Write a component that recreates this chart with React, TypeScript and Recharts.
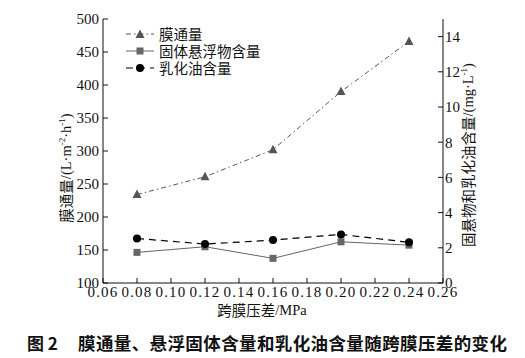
import React from 'react';
import { LineChart, Line, XAxis, YAxis } from 'recharts';

const pressure = [0.08, 0.12, 0.16, 0.2, 0.24];
const flux = [234, 261, 302, 390, 466];
const solids = [1.74, 2.06, 1.4, 2.34, 2.15];
const oil = [2.53, 2.21, 2.44, 2.76, 2.31];

const xTicks = [0.06, 0.08, 0.1, 0.12, 0.14, 0.16, 0.18, 0.2, 0.22, 0.24, 0.26];
const leftTicks = [100, 150, 200, 250, 300, 350, 400, 450, 500];
const rightTicks = [0, 2, 4, 6, 8, 10, 12, 14];

const data = pressure.map((p, i) => ({ p, flux: flux[i], solids: solids[i], oil: oil[i] }));

const serif = 'Liberation Serif, serif';
const cjk = 'Noto Sans CJK SC, sans-serif';

const Triangle = (props: any) => {
  const { cx, cy } = props;
  if (cx == null || cy == null) return null;
  return <polygon points={`${cx},${cy - 5} ${cx - 4.5},${cy + 3.5} ${cx + 4.5},${cy + 3.5}`} fill="#555" />;
};
const Square = (props: any) => {
  const { cx, cy } = props;
  if (cx == null || cy == null) return null;
  return <rect x={cx - 3.5} y={cy - 3.5} width={7} height={7} fill="#666" />;
};
const Circle = (props: any) => {
  const { cx, cy } = props;
  if (cx == null || cy == null) return null;
  return <circle cx={cx} cy={cy} r={4} fill="#000" />;
};

const legendItems = [
  { name: '膜通量', color: '#555', dash: '5 3 1.5 3', marker: 'tri' },
  { name: '固体悬浮物含量', color: '#666', dash: undefined, marker: 'sq' },
  { name: '乳化油含量', color: '#000', dash: '7 5', marker: 'dot' },
];

export default function App() {
  const tickStyle = { fontFamily: serif, fontSize: 15, fill: '#111' };
  return (
    <div style={{ position: 'absolute', left: 0, top: 0, width: 525, height: 358, background: '#fff', fontFamily: serif }}>
      <LineChart width={525} height={320} data={data} margin={{ top: 19, right: 42, left: 58, bottom: 7 }} style={{ fontFamily: serif }}>
        <XAxis
          dataKey="p"
          type="number"
          domain={[0.06, 0.26]}
          ticks={xTicks}
          tickFormatter={(v: number) => v.toFixed(2)}
          stroke="#111"
          tick={{ ...tickStyle, letterSpacing: 1.2 }}
          tickSize={-5}
          tickMargin={8}
          height={30}
          interval={0}
        />
        <YAxis
          yAxisId="left"
          domain={[100, 500]}
          ticks={leftTicks}
          stroke="#111"
          tick={tickStyle}
          tickSize={-5}
          tickMargin={9}
          width={45}
          interval={0}
        />
        <YAxis
          yAxisId="right"
          orientation="right"
          domain={[0, 15]}
          ticks={rightTicks}
          stroke="#111"
          tick={tickStyle}
          tickSize={-5}
          tickMargin={7}
          width={40}
          interval={0}
        />
        <Line
          yAxisId="left"
          dataKey="flux"
          stroke="#555"
          strokeWidth={1}
          strokeDasharray="5 3 1.5 3"
          dot={<Triangle />}
          isAnimationActive={false}
        />
        <Line
          yAxisId="right"
          dataKey="solids"
          stroke="#666"
          strokeWidth={1}
          dot={<Square />}
          isAnimationActive={false}
        />
        <Line
          yAxisId="right"
          dataKey="oil"
          stroke="#000"
          strokeWidth={1.2}
          strokeDasharray="7 5"
          dot={<Circle />}
          isAnimationActive={false}
        />
      </LineChart>
      <div style={{ position: 'absolute', left: 126, top: 25 }}>
        {legendItems.map((it) => (
          <div key={it.name} style={{ display: 'flex', alignItems: 'center', height: 17 }}>
            <svg width={30} height={12}>
              <line x1={0} y1={6} x2={28} y2={6} stroke={it.color} strokeWidth={1} strokeDasharray={it.dash} />
              {it.marker === 'tri' && <polygon points="14,1.5 9.5,10 18.5,10" fill={it.color} />}
              {it.marker === 'sq' && <rect x={10.5} y={2.5} width={7} height={7} fill={it.color} />}
              {it.marker === 'dot' && <circle cx={14} cy={6} r={4} fill={it.color} />}
            </svg>
            <span style={{ fontFamily: cjk, fontSize: 14.5, color: '#111', marginLeft: 3, lineHeight: '17px' }}>{it.name}</span>
          </div>
        ))}
      </div>
      <svg width={525} height={358} style={{ position: 'absolute', left: 0, top: 0, pointerEvents: 'none' }}>
        <text transform="translate(68,168) rotate(-90)" textAnchor="middle" dominantBaseline="middle" fontSize={14.5} fill="#111">
          <tspan fontFamily={cjk}>膜通量</tspan>
          <tspan fontFamily={serif}>/(L·m</tspan>
          <tspan fontFamily={serif} fontSize={9} dy={-5}>-2</tspan>
          <tspan fontFamily={serif} dy={5}>·h</tspan>
          <tspan fontFamily={serif} fontSize={9} dy={-5}>-1</tspan>
          <tspan fontFamily={serif} dy={5}>)</tspan>
        </text>
        <text transform="translate(470,155) rotate(-90)" textAnchor="middle" dominantBaseline="middle" fontSize={14.5} fill="#111">
          <tspan fontFamily={cjk}>固悬物和乳化油含量</tspan>
          <tspan fontFamily={serif}>/(mg·L</tspan>
          <tspan fontFamily={serif} fontSize={9} dy={-5}>-1</tspan>
          <tspan fontFamily={serif} dy={5}>)</tspan>
        </text>
        <text x={262} y={312} textAnchor="middle" dominantBaseline="middle" fontSize={14.5} fill="#111">
          <tspan fontFamily={cjk}>跨膜压差</tspan>
          <tspan fontFamily={serif}>/MPa</tspan>
        </text>
        <text x={27} y={345} dominantBaseline="middle" fontFamily={cjk} fontSize={17} fontWeight={700} fill="#111">
          图 2
        </text>
        <text x={78} y={345} dominantBaseline="middle" fontFamily={cjk} fontSize={17.5} fontWeight={700} fill="#111" textLength={429}>
          膜通量、悬浮固体含量和乳化油含量随跨膜压差的变化
        </text>
      </svg>
    </div>
  );
}
